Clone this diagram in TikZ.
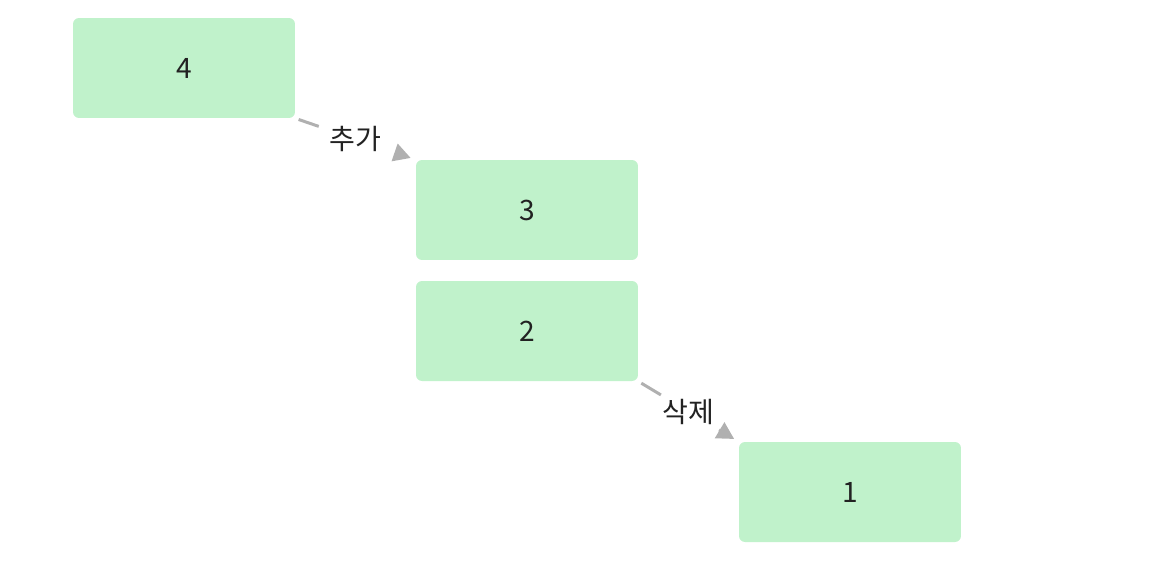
\documentclass[tikz,border=0pt]{standalone}
\usepackage{fontspec}
\setmainfont{Noto Sans CJK KR}
\usetikzlibrary{arrows.meta, calc}
\definecolor{boxgreen}{HTML}{C0F2CB}
\definecolor{edgegray}{HTML}{B0B0B0}
\definecolor{txt}{HTML}{222222}
\begin{document}
\begin{tikzpicture}[x=0.02cm, y=-0.02cm]
    \tikzset{
        item/.style = {
            fill = boxgreen,
            rounded corners = 0.12cm,
            minimum width = 4.44cm,
            minimum height = 2cm,
            inner sep = 0pt,
            text = txt,
            font = \fontsize{16}{19}\selectfont
        },
        wire/.style = {
            draw = edgegray,
            line width = 0.06cm,
            shorten <= 2pt
        },
        link/.style = {
            wire,
            shorten >= 3pt,
            -{Triangle[length=0.34cm, width=0.36cm]}
        },
        tag/.style = {
            text = txt,
            inner xsep = 6pt,
            inner ysep = 2pt,
            font = \fontsize{16}{19}\selectfont
        }
    }
    \useasboundingbox (0,0) rectangle (1150,566);

    \node[item] (n4) at (184, 68) {4};
    \node[item] (n3) at (527, 210) {3};
    \node[item] (n2) at (527, 331) {2};
    \node[item] (n1) at (850, 492) {1};

    \node[tag] (add) at ($(n4.south east)!0.5!(n3.north west)$) {추가};
    \node[tag] (del) at ($(n2.south east)!0.5!(n1.north west)$) {삭제};

    \draw[wire] (n4.south east) -- (add);
    \draw[link] (add) -- (n3.north west);
    \draw[wire] (n2.south east) -- (del);
    \draw[link] (del) -- (n1.north west);

\end{tikzpicture}
\end{document}
